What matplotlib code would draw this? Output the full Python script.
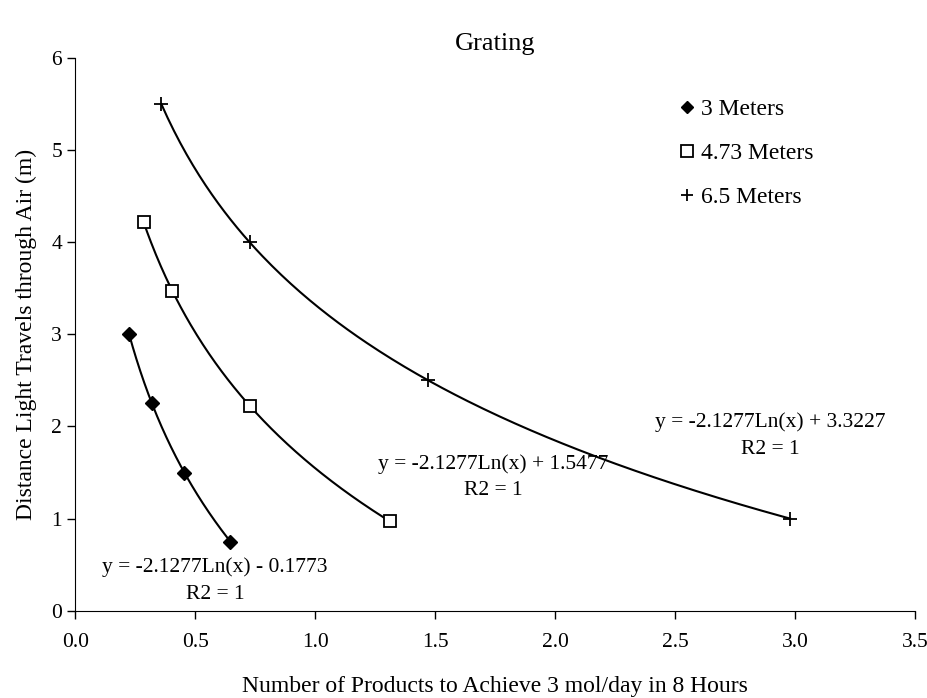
import numpy as np
import matplotlib.pyplot as plt

plt.rcParams['font.family'] = ['Liberation Serif', 'DejaVu Serif']

# data (x = products, y = distance)
x_3m = [0.225, 0.320, 0.455, 0.647]
y_3m = [3.0, 2.25, 1.5, 0.75]
x_473m = [0.285, 0.405, 0.729, 1.312]
y_473m = [4.22, 3.47, 2.22, 0.97]
x_65m = [0.359, 0.727, 1.472, 2.979]
y_65m = [5.5, 4.0, 2.5, 1.0]

labels = ['3 Meters', '4.73 Meters', '6.5 Meters']
markers = ['D', 's', '+']
eq_text = ['y = -2.1277Ln(x) - 0.1773\nR2 = 1',
           'y = -2.1277Ln(x) + 1.5477\nR2 = 1',
           'y = -2.1277Ln(x) + 3.3227\nR2 = 1']
eq_pos = [(0.583, 0.325), (1.742, 1.45), (2.896, 1.90)]

fig = plt.figure(figsize=(9.28, 6.98), dpi=100)
ax = fig.add_axes([0.081, 0.125, 0.905, 0.792])

series = [(x_3m, y_3m), (x_473m, y_473m), (x_65m, y_65m)]
for i, (xs, ys) in enumerate(series):
    xs = np.array(xs)
    ys = np.array(ys)
    # log trendline like excel
    k, c = np.polyfit(np.log(xs), ys, 1)
    xx = np.linspace(xs.min(), xs.max(), 200)
    ax.plot(xx, k * np.log(xx) + c, color='black', lw=1.5, zorder=2)
    if markers[i] == 'D':
        ax.plot(xs, ys, 'D', color='black', ms=7, ls='none', label=labels[i], zorder=3)
    elif markers[i] == 's':
        ax.plot(xs, ys, 's', mfc='white', mec='black', mew=1.3, ms=9, ls='none', label=labels[i], zorder=3)
    else:
        ax.plot(xs, ys, '+', color='black', mew=1.3, ms=10, ls='none', label=labels[i], zorder=3)
    ax.text(eq_pos[i][0], eq_pos[i][1], eq_text[i], ha='center', va='center',
            fontsize=15.5, linespacing=1.55)

ax.set_xlim(0, 3.5)
ax.set_ylim(0, 6)
ax.set_xticks(np.arange(0, 3.51, 0.5))
ax.set_xticklabels(['%.1f' % v for v in np.arange(0, 3.51, 0.5)])
ax.set_yticks(range(0, 7))
ax.tick_params(labelsize=15.5, direction='out', length=6, width=1, color='black')
ax.tick_params(axis='x', pad=10)
for s in ['top', 'right']:
    ax.spines[s].set_visible(False)
ax.set_xlabel('Number of Products to Achieve 3 mol/day in 8 Hours', fontsize=17, labelpad=17)
ax.set_ylabel('Distance Light Travels through Air (m)', fontsize=17, labelpad=10)
ax.set_title('Grating', fontsize=19, pad=6)

ax.legend(loc='upper left', bbox_to_anchor=(0.695, 0.965), frameon=False, fontsize=17,
          handlelength=0.6, handletextpad=0.3, labelspacing=0.95, markerscale=0.9)

fig.savefig('out.png', dpi=100)
